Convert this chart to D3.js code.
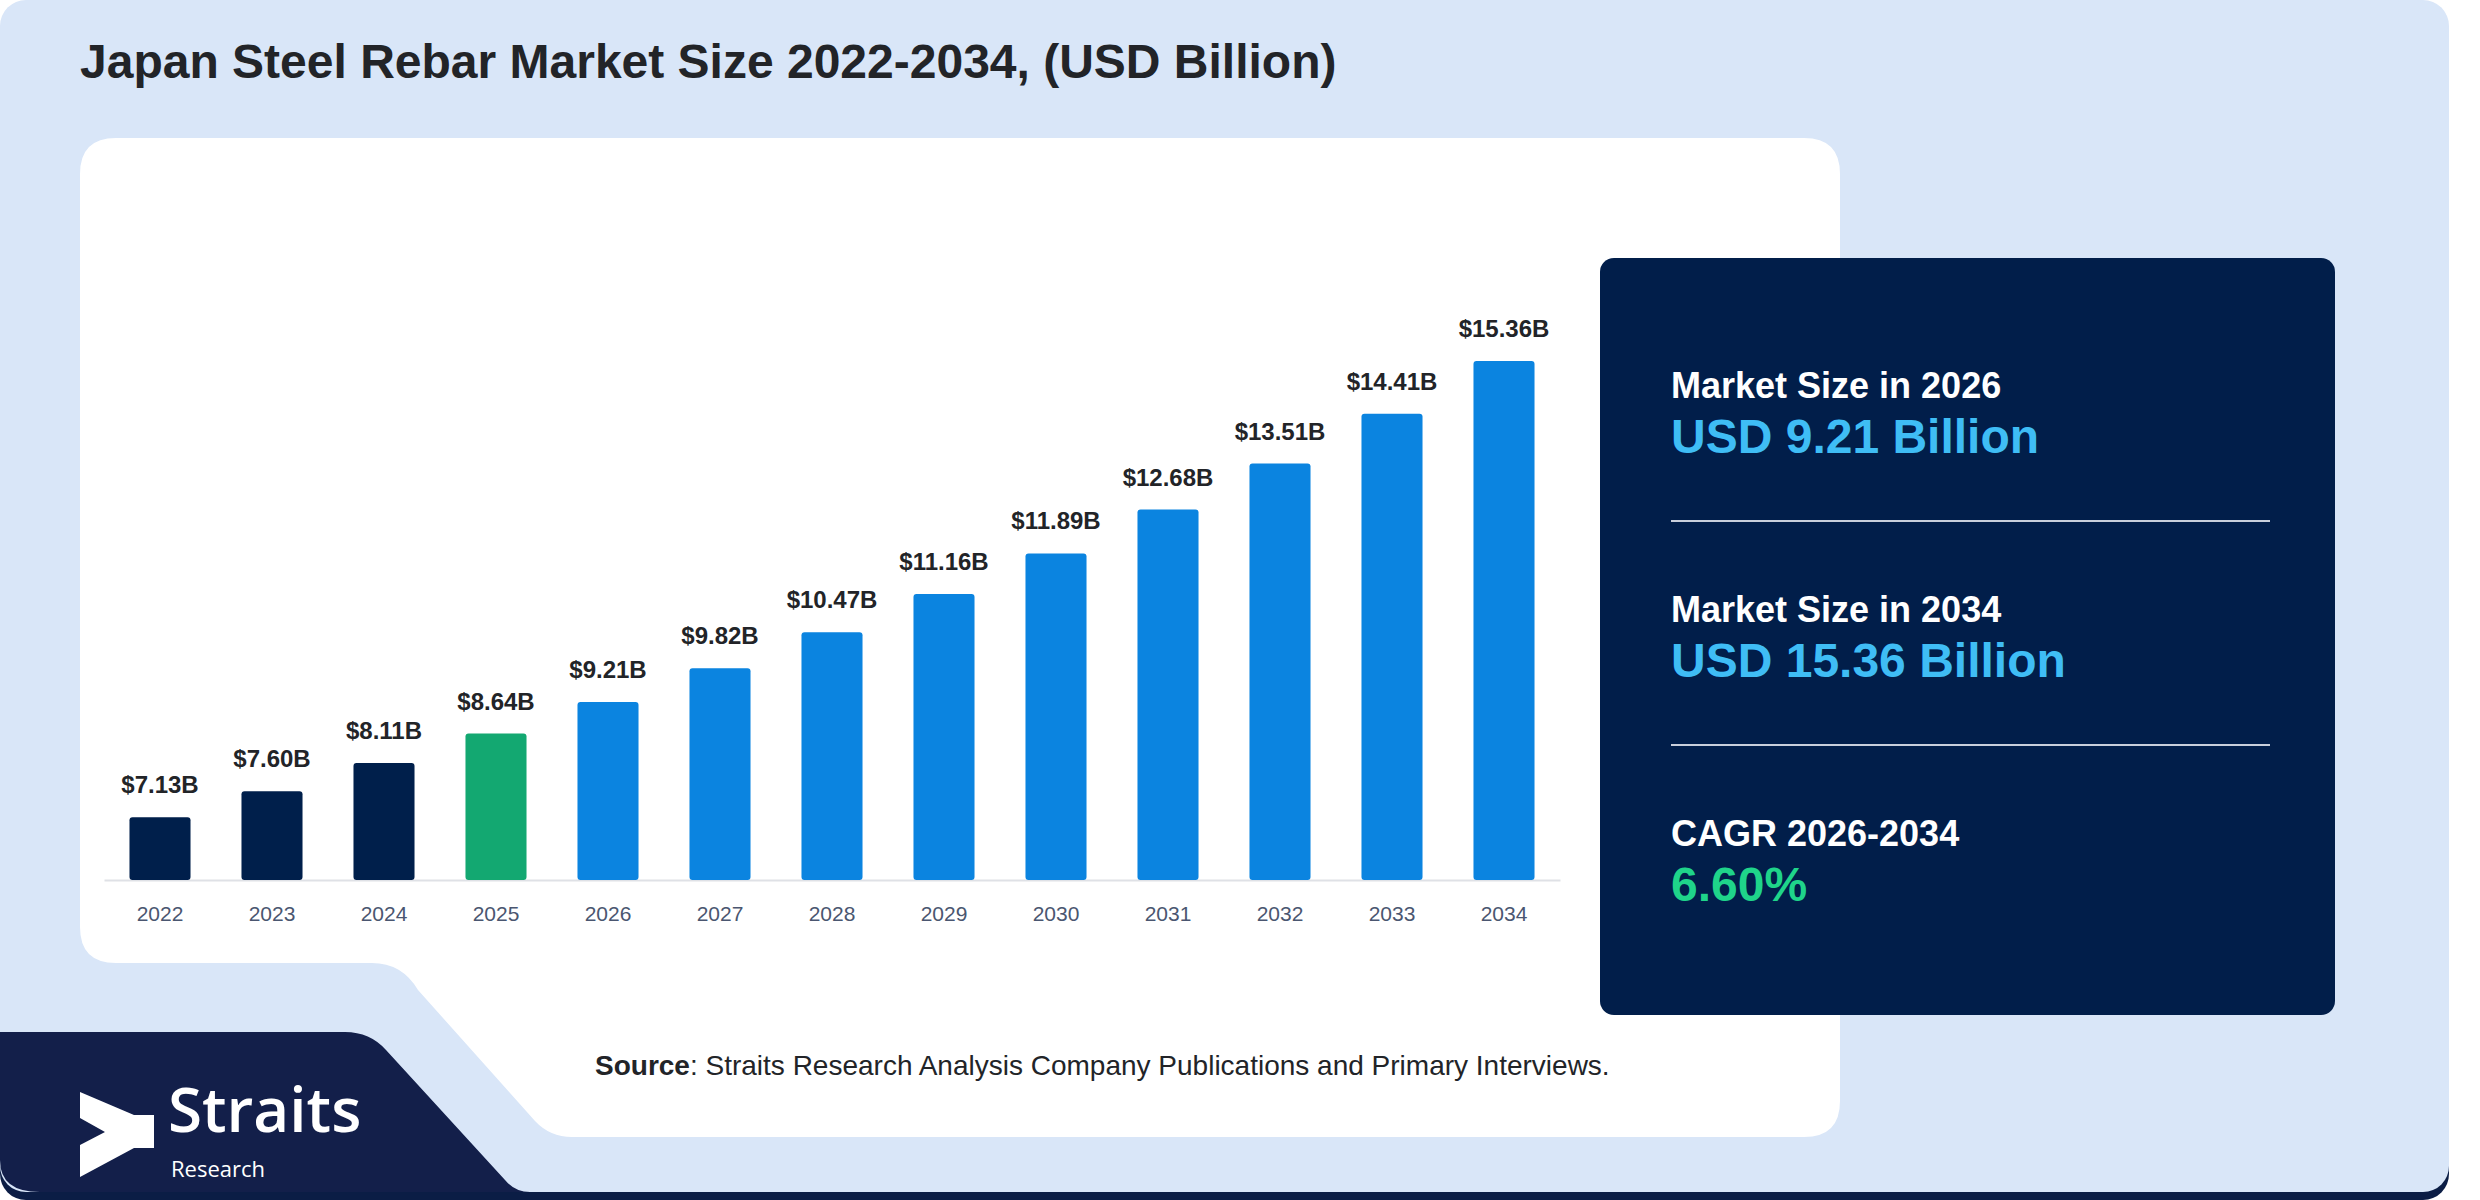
<!DOCTYPE html>
<html>
<head>
<meta charset="utf-8">
<script src="https://cdn.jsdelivr.net/npm/d3@7"></script>
<style>
  body { margin: 0; background: #ffffff; }
  svg { display: block; font-family: "Liberation Sans", Arial, sans-serif; }
</style>
</head>
<body>
<script>
// chart values
var years  = ["2022","2023","2024","2025","2026","2027","2028","2029","2030","2031","2032","2033","2034"];
var values = [7.13, 7.60, 8.11, 8.64, 9.21, 9.82, 10.47, 11.16, 11.89, 12.68, 13.51, 14.41, 15.36];
var periods = ["historic","historic","historic","base","forecast","forecast","forecast",
               "forecast","forecast","forecast","forecast","forecast","forecast"];

// side panel
var summaryLabels = ["Market Size in 2026", "Market Size in 2034", "CAGR 2026-2034"];
var summaryValues = ["USD 9.21 Billion", "USD 15.36 Billion", "6.60%"];

var width = 2480, height = 1200;

var svg = d3.select("body").append("svg")
    .attr("width", width)
    .attr("height", height);

// card background with navy shadow along the bottom
svg.append("rect")
    .attr("x", 0).attr("y", 8)
    .attr("width", 2449).attr("height", 1192)
    .attr("rx", 26)
    .attr("fill", "#0b1d45");
svg.append("rect")
    .attr("x", 0).attr("y", 0)
    .attr("width", 2449).attr("height", 1192)
    .attr("rx", 26)
    .attr("fill", "#d9e6f8");

// navy logo block, bottom left
svg.append("path")
    .attr("d", "M0,1032 H345 Q370,1032 386,1050 L505,1180 Q515,1192 530,1192 H40 Q0,1192 0,1160 Z")
    .attr("fill", "#131f4a");

// white chart panel with the cut-out corner
svg.append("path")
    .attr("d", "M116,138 H1804 Q1840,138 1840,174 V1101 Q1840,1137 1804,1137 H572 Q550,1137 535,1121 L418,990 Q402,963 372,963 H116 Q80,963 80,927 V174 Q80,138 116,138 Z")
    .attr("fill", "#ffffff");

// title
svg.append("text")
    .attr("x", 80).attr("y", 78)
    .attr("font-size", 48)
    .attr("font-weight", "bold")
    .attr("fill", "#222428")
    .text("Japan Steel Rebar Market Size 2022-2034, (USD Billion)");

// scales
var x = d3.scaleBand()
    .domain(years)
    .range([104, 1560])
    .paddingInner(0.455)
    .paddingOuter(0.2275);

var y = d3.scaleLinear()
    .domain([6, 15.36])
    .range([880, 361]);

var color = d3.scaleOrdinal()
    .domain(["historic", "base", "forecast"])
    .range(["#001f4b", "#13a871", "#0b84e0"]);

var data = years.map(function(d, i) {
  return { year: d, value: values[i], period: periods[i] };
});

// x axis
var axis = svg.append("g")
    .attr("transform", "translate(0,880)")
    .call(d3.axisBottom(x).tickSize(0).tickSizeOuter(0).tickPadding(26));
axis.select(".domain").attr("stroke", "#dfe1e6").attr("stroke-width", 2);
axis.selectAll("text")
    .attr("font-family", "Liberation Sans, Arial, sans-serif")
    .attr("font-size", 21)
    .attr("fill", "#4a5670");

// bars
svg.selectAll(".bar")
    .data(data)
    .enter().append("rect")
      .attr("class", "bar")
      .attr("x", function(d) { return x(d.year); })
      .attr("y", function(d) { return y(d.value); })
      .attr("width", x.bandwidth())
      .attr("height", function(d) { return y(6) - y(d.value); })
      .attr("rx", 3)
      .attr("fill", function(d) { return color(d.period); });

// value labels
svg.selectAll(".label")
    .data(data)
    .enter().append("text")
      .attr("class", "label")
      .attr("x", function(d) { return x(d.year) + x.bandwidth() / 2; })
      .attr("y", function(d) { return y(d.value) - 24; })
      .attr("text-anchor", "middle")
      .attr("font-size", 24)
      .attr("font-weight", "bold")
      .attr("fill", "#222428")
      .text(function(d) { return "$" + d.value.toFixed(2) + "B"; });

// right summary panel
svg.append("rect")
    .attr("x", 1600).attr("y", 258)
    .attr("width", 735).attr("height", 757)
    .attr("rx", 14)
    .attr("fill", "#011e4a");

var valueColors = ["#3fbdf5", "#3fbdf5", "#1fd48a"];
var blocks = svg.selectAll(".summary")
    .data(summaryLabels)
    .enter().append("g")
      .attr("class", "summary")
      .attr("transform", function(d, i) { return "translate(1671," + (398 + i * 224) + ")"; });

blocks.append("text")
    .attr("font-size", 36)
    .attr("font-weight", "bold")
    .attr("fill", "#ffffff")
    .text(function(d) { return d; });

blocks.append("text")
    .attr("y", 55)
    .attr("font-size", 48)
    .attr("font-weight", "bold")
    .attr("fill", function(d, i) { return valueColors[i]; })
    .text(function(d, i) { return summaryValues[i]; });

// divider lines between the blocks
svg.selectAll(".divider")
    .data([521, 745])
    .enter().append("line")
      .attr("class", "divider")
      .attr("x1", 1671).attr("x2", 2270)
      .attr("y1", function(d) { return d; })
      .attr("y2", function(d) { return d; })
      .attr("stroke", "#c9cfdc")
      .attr("stroke-width", 2);

// source note
var src = svg.append("text")
    .attr("x", 595).attr("y", 1075)
    .attr("font-size", 28)
    .attr("fill", "#222428");
src.append("tspan").attr("font-weight", "bold").text("Source");
src.append("tspan").text(": Straits Research Analysis Company Publications and Primary Interviews.");

// Straits Research logo
svg.append("path")
    .attr("d", "M80,1092 L134,1115 H154 V1148 H134 L80,1177 V1145 L105,1132 L80,1118 Z")
    .attr("fill", "#ffffff");
svg.append("text")
    .attr("x", 168).attr("y", 1132)
    .attr("font-family", "'Open Sans', sans-serif")
    .attr("font-size", 62)
    .attr("font-weight", 600)
    .attr("fill", "#ffffff")
    .text("Straits");
svg.append("text")
    .attr("x", 171).attr("y", 1177)
    .attr("font-family", "'Open Sans', sans-serif")
    .attr("font-size", 22)
    .attr("fill", "#ffffff")
    .text("Research");
</script>
</body>
</html>
